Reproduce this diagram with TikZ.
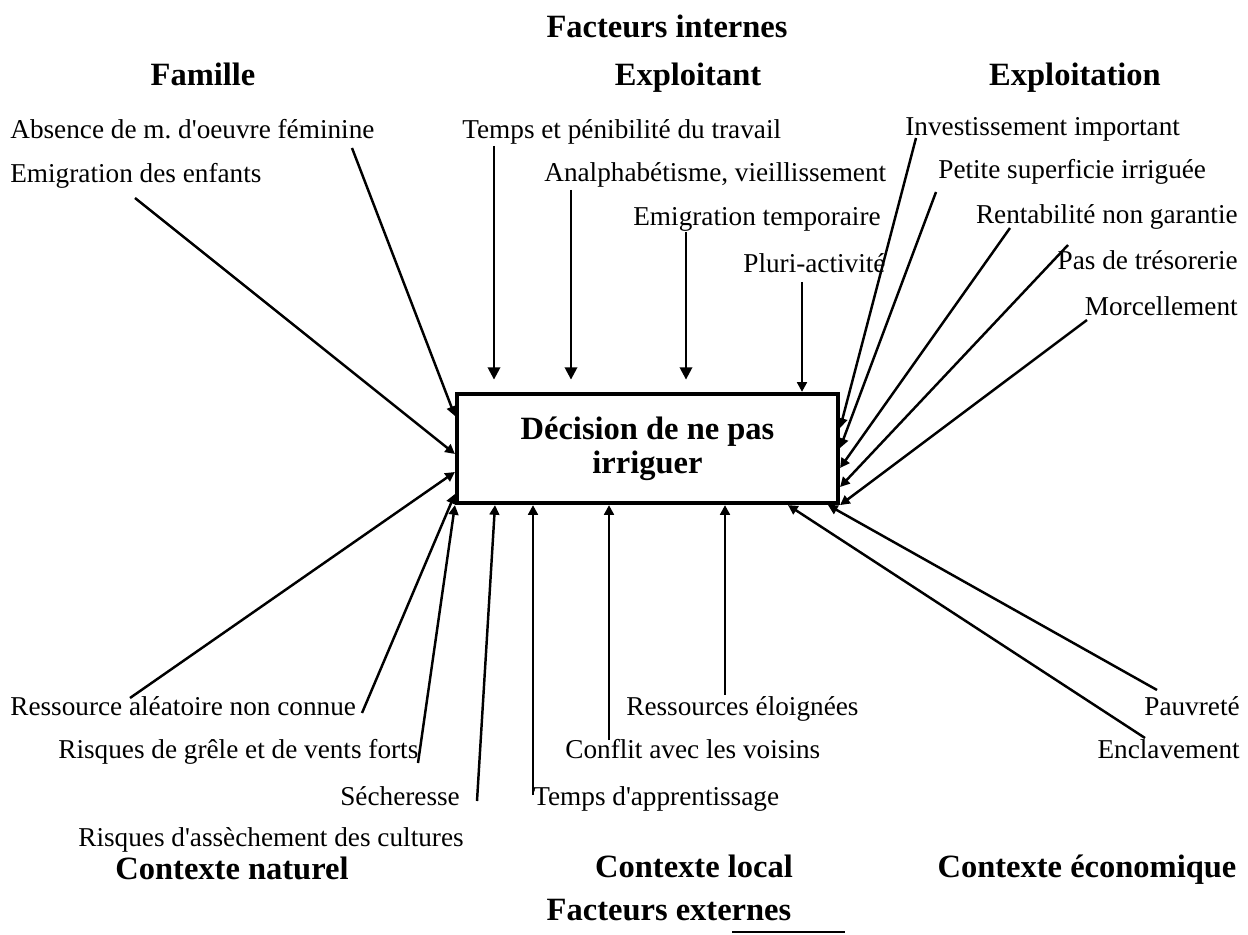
\documentclass[tikz,border=0pt]{standalone}
\usepackage{fontspec}
\setmainfont{Liberation Serif}
\usetikzlibrary{arrows.meta}

\tikzset{
  lbl/.style={font=\fontsize{15.5}{18}\selectfont, inner sep=0pt, anchor=base west},
  lblr/.style={lbl, anchor=base east},
  titre/.style={font=\bfseries\fontsize{18.5}{22}\selectfont, inner sep=0pt, anchor=base},
  fl/.style={line width=1.4pt, -{Triangle[length=5.5pt,width=5.5pt]}},
  flh/.style={fl, -{Triangle[length=7pt,width=7pt]}, shorten >=7pt},
}
\newcommand{\apos}{\textquotesingle}

\begin{document}
\frenchspacing
\begin{tikzpicture}[x=0.02cm,y=-0.02cm]
\useasboundingbox (0,0) rectangle (1248,935);

% titres
\node[titre] (fint) at (667,38) {Facteurs internes};
\node[titre] (famille) at (203,86) {Famille};
\node[titre] (exploitant) at (688,86) {Exploitant};
\node[titre] (exploitation) at (1075,86) {Exploitation};
\node[titre] (cnat) at (232,879) {Contexte naturel};
\node[titre] (cloc) at (694,877) {Contexte local};
\node[titre] (ceco) at (1087,877) {Contexte économique};
\node[titre] (fext) at (669,920) {Facteurs externes};
\draw[line width=0.8pt] (732,932) -- (845,932);

% decision
\node[draw, line width=2.4pt, minimum width=7.62cm, minimum height=2.18cm,
  align=center, font=\bfseries\fontsize{18.5}{19.5}\selectfont] (box) at (647.5,448.5)
  {Décision de ne pas\\irriguer};

% facteurs internes
\node[lbl] (absence) at (10,139) {Absence de m. d\apos oeuvre féminine};
\node[lbl] (enfants) at (10,183) {Emigration des enfants};
\node[lbl] (penib) at (462,139) {Temps et pénibilité du travail};
\node[lbl] (analpha) at (544,182) {Analphabétisme, vieillissement};
\node[lbl] (emigtemp) at (633,226) {Emigration temporaire};
\node[lbl] (pluri) at (743,273) {Pluri-activité};
\node[lbl] (invest) at (905,136) {Investissement important};
\node[lbl] (petite) at (938,179) {Petite superficie irriguée};
\node[lblr] (rentab) at (1238,224) {Rentabilité non garantie};
\node[lblr] (treso) at (1238,270) {Pas de trésorerie};
\node[lblr] (morcel) at (1238,316) {Morcellement};

% facteurs externes
\node[lbl] (ressource) at (10,715) {Ressource aléatoire non connue};
\node[lbl] (grele) at (58,758) {Risques de grêle et de vents forts};
\node[lbl] (secher) at (340,805) {Sécheresse};
\node[lbl] (assech) at (78,846) {Risques d\apos assèchement des cultures};
\node[lbl] (apprent) at (533,805) {Temps d\apos apprentissage};
\node[lbl] (conflit) at (565,758) {Conflit avec les voisins};
\node[lbl] (eloign) at (626,715) {Ressources éloignées};
\node[lblr] (pauvre) at (1240,715) {Pauvreté};
\node[lblr] (enclav) at (1240,758) {Enclavement};

% departs des fleches
\coordinate (d-absence) at (352,148);
\coordinate (d-enfants) at (135,198);
\coordinate (d-penib) at (494,146);
\coordinate (d-analpha) at (571,190);
\coordinate (d-emigtemp) at (686,232);
\coordinate (d-pluri) at (802,282);
\coordinate (d-invest) at (916,138);
\coordinate (d-petite) at (936,192);
\coordinate (d-rentab) at (1010,228);
\coordinate (d-treso) at (1068,245);
\coordinate (d-morcel) at (1087,320);
\coordinate (d-ressource) at (130,698);
\coordinate (d-grele) at (362,713);
\coordinate (d-secher) at (418,763);
\coordinate (d-assech) at (477,801);
\coordinate (d-apprent) at (533,795);
\coordinate (d-conflit) at (609,740);
\coordinate (d-eloign) at (725,695);
\coordinate (d-pauvre) at (1157,690);
\coordinate (d-enclav) at (1145,738);

% fleches vers la decision
\draw[fl] (d-absence) -- (box.west |- 0,416);
\draw[fl] (d-enfants) -- (box.west |- 0,454);
\draw[flh] (d-penib) -- (d-penib |- box.north);
\draw[flh] (d-analpha) -- (d-analpha |- box.north);
\draw[flh] (d-emigtemp) -- (d-emigtemp |- box.north);
\draw[fl] (d-pluri) -- (d-pluri |- box.north);
\draw[fl] (d-invest) -- (box.east |- 0,428);
\draw[fl] (d-petite) -- (box.east |- 0,448);
\draw[fl] (d-rentab) -- (box.east |- 0,468);
\draw[fl] (d-treso) -- (box.east |- 0,487);
\draw[fl] (d-morcel) -- (box.south east);

\draw[fl] (d-ressource) -- (box.west |- 0,472);
\draw[fl] (d-grele) -- (box.west |- 0,494);
\draw[fl] (d-secher) -- (box.south west);
\draw[fl] (d-assech) -- (495,0 |- box.south);
\draw[fl] (d-apprent) -- (d-apprent |- box.south);
\draw[fl] (d-conflit) -- (d-conflit |- box.south);
\draw[fl] (d-eloign) -- (d-eloign |- box.south);
\draw[fl] (d-enclav) -- (788,0 |- box.south);
\draw[fl] (d-pauvre) -- (828,0 |- box.south);

\end{tikzpicture}
\end{document}
